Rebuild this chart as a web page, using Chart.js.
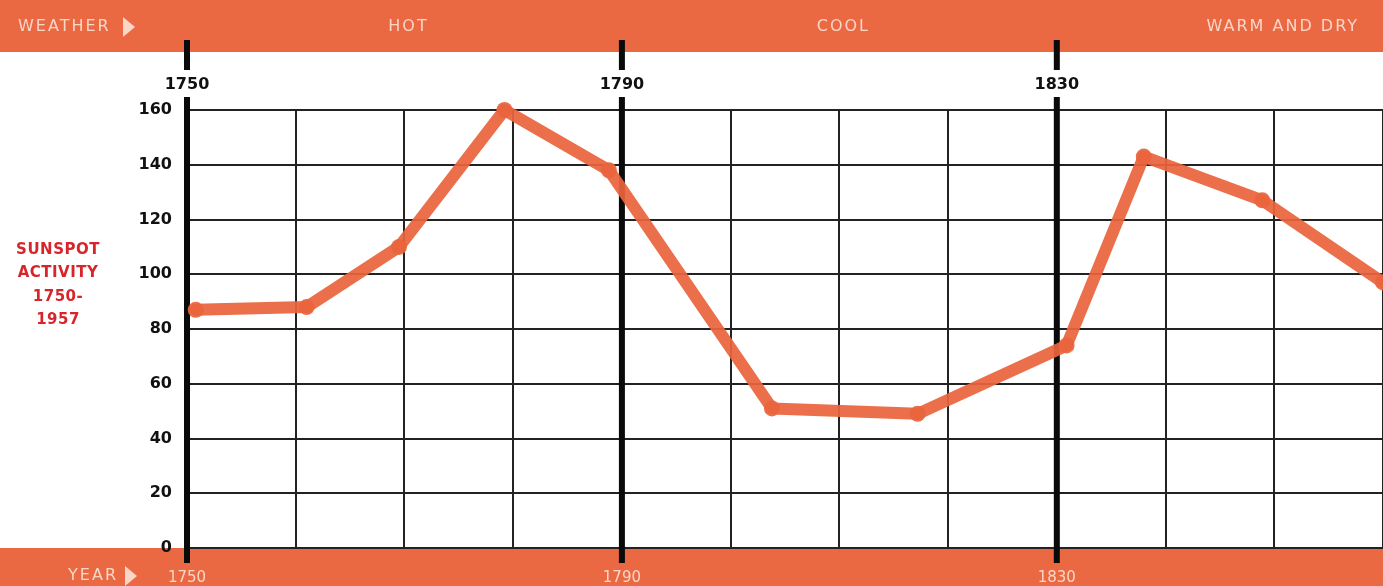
<!DOCTYPE html>
<html>
<head>
<meta charset="utf-8">
<script src="https://cdn.jsdelivr.net/npm/chart.js@4"></script>
<style>
  body { margin: 0; background: #fff; }
  #wrap { width: 1383px; height: 586px; }
</style>
</head>
<body>
<div id="wrap"><canvas id="sunChart" width="1383" height="586"></canvas></div>
<script>
// sunspot maxima (year, activity)
var years = [1750.8, 1761, 1769.5, 1779.2, 1788.8, 1803.8, 1817.2, 1830.9, 1838, 1848.9, 1860];
var sunspots = [87, 88, 110, 160, 138, 51, 49, 74, 143, 127, 97];

// heavy year markers and the weather over each stretch
var eraYears = [1750, 1790, 1830];
var weather = ['HOT', 'COOL', 'WARM AND DRY'];

var orange = 'rgb(234, 104, 66)';
var pale = '#fad6c7';

var points = years.map(function (y, i) { return { x: y, y: sunspots[i] }; });

function eraLabel(v) {
  return eraYears.indexOf(v) >= 0 ? String(v) : '';
}

// keep the year axes flush with the plot edges
function fitYearAxis(h) {
  return function (s) {
    s.height = h;
    s.paddingLeft = 0;
    s.paddingRight = 0;
  };
}

function arrow(c, x, y) {
  c.beginPath();
  c.moveTo(x, y - 10);
  c.lineTo(x + 12, y);
  c.lineTo(x, y + 10);
  c.closePath();
  c.fill();
}

var decor = {
  id: 'decor',
  beforeDraw: function (chart) {
    var c = chart.ctx, a = chart.chartArea;
    c.save();
    c.fillStyle = '#fff';
    c.fillRect(0, 0, chart.width, chart.height);
    c.fillStyle = orange;
    c.fillRect(0, 0, chart.width, 52);
    c.fillRect(0, a.bottom, chart.width, chart.height - a.bottom);
    c.restore();
  },
  beforeDatasetsDraw: function (chart) {
    var c = chart.ctx, x = chart.scales.x, a = chart.chartArea;
    c.save();
    c.strokeStyle = '#0a0a0a';
    c.lineWidth = 6;
    eraYears.forEach(function (yr) {
      var px = x.getPixelForValue(yr);
      c.beginPath();
      c.moveTo(px, 40);
      c.lineTo(px, 70);
      c.moveTo(px, 97);
      c.lineTo(px, a.bottom + 15);
      c.stroke();
    });
    c.restore();
  },
  afterDraw: function (chart) {
    var c = chart.ctx, x = chart.scales.x, a = chart.chartArea;
    c.save();
    c.fillStyle = pale;
    c.font = '16px "DejaVu Sans"';
    c.letterSpacing = '2px';
    c.textBaseline = 'middle';

    // weather band
    c.textAlign = 'left';
    c.fillText('WEATHER', 18, 27);
    arrow(c, 123, 27);
    c.textAlign = 'center';
    for (var i = 0; i < 2; i++) {
      var mid = (x.getPixelForValue(eraYears[i]) + x.getPixelForValue(eraYears[i + 1])) / 2;
      c.fillText(weather[i], mid + 4, 27);
    }
    c.textAlign = 'right';
    c.fillText(weather[2], a.right - 24, 27);

    // year band
    c.textAlign = 'right';
    c.fillText('YEAR', 118, 576);
    arrow(c, 125, 576);

    // axis title
    c.fillStyle = '#d6262c';
    c.font = 'bold 15px "DejaVu Sans"';
    c.letterSpacing = '0.5px';
    c.textAlign = 'center';
    ['SUNSPOT', 'ACTIVITY', '1750-', '1957'].forEach(function (t, k) {
      c.fillText(t, 58, 250 + k * 23.5);
    });
    c.restore();
  }
};

var ctx = document.getElementById('sunChart').getContext('2d');
var chart = new Chart(ctx, {
  type: 'line',
  data: {
    datasets: [{
      label: 'Sunspot activity',
      data: points,
      borderColor: 'rgba(234, 100, 60, 0.93)',
      backgroundColor: 'rgba(234, 100, 60, 0.93)',
      borderWidth: 12,
      pointRadius: 8,
      pointBorderWidth: 0,
      tension: 0,
      clip: false,
      borderJoinStyle: 'round',
      borderCapStyle: 'round'
    }]
  },
  options: {
    responsive: false,
    animation: false,
    layout: { autoPadding: false, padding: { top: 70, left: 0, right: 0, bottom: 0 } },
    plugins: {
      legend: { display: false },
      tooltip: { enabled: false }
    },
    scales: {
      x: {
        type: 'linear',
        position: 'bottom',
        min: 1750,
        max: 1860,
        afterFit: fitYearAxis(38),
        border: { display: false },
        grid: { color: '#222', lineWidth: 2, drawTicks: false },
        ticks: {
          stepSize: 10,
          maxTicksLimit: 20,
          autoSkip: false,
          maxRotation: 0,
          padding: 21,
          color: pale,
          font: { family: 'DejaVu Sans', size: 15 },
          callback: eraLabel
        }
      },
      x2: {
        type: 'linear',
        position: 'top',
        min: 1750,
        max: 1860,
        afterFit: fitYearAxis(40),
        border: { display: false },
        grid: { display: false, drawTicks: false },
        ticks: {
          stepSize: 10,
          maxTicksLimit: 20,
          autoSkip: false,
          maxRotation: 0,
          padding: 16,
          color: '#111',
          font: { family: 'DejaVu Sans', size: 16, weight: 'bold' },
          callback: eraLabel
        }
      },
      y: {
        min: 0,
        max: 160,
        afterFit: function (s) { s.width = 187; },
        border: { display: false },
        grid: { color: '#222', lineWidth: 2, drawTicks: false },
        ticks: {
          stepSize: 20,
          padding: 15,
          color: '#111',
          font: { family: 'DejaVu Sans', size: 16, weight: 'bold' }
        }
      }
    }
  },
  plugins: [decor]
});
</script>
</body>
</html>
